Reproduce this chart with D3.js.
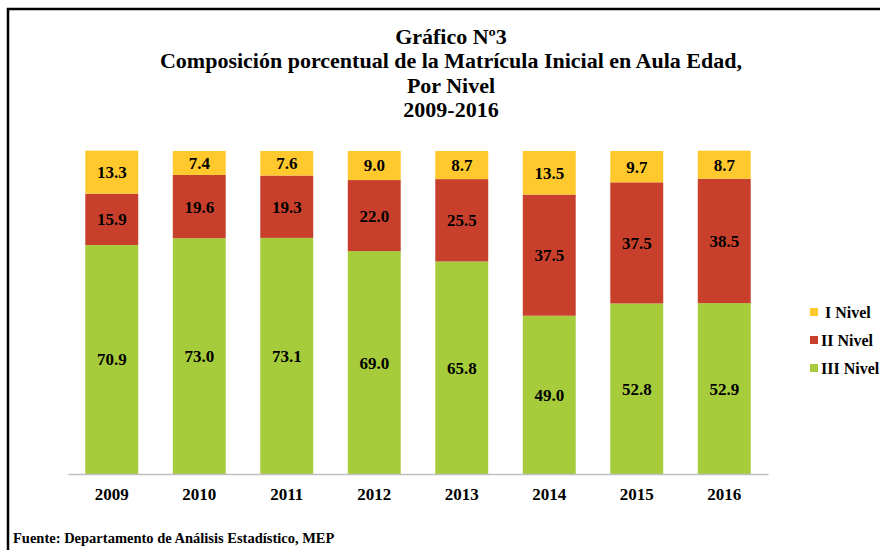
<!DOCTYPE html>
<html lang="es">
<head>
    <meta charset="UTF-8">
    <title>Gráfico Nº3</title>
    <script src="https://d3js.org/d3.v7.min.js"></script>
    <style>
        body {
            margin: 0;
            background-color: #FFFFFF;
            overflow: hidden;
        }
        text {
            font-family: 'Liberation Serif', 'Times New Roman', serif;
            font-weight: bold;
            fill: #000;
        }
    </style>
</head>
<body>
    <script>
        // Data
        const years = ["2009", "2010", "2011", "2012", "2013", "2014", "2015", "2016"];
        const nivelI = [13.3, 7.4, 7.6, 9.0, 8.7, 13.5, 9.7, 8.7];
        const nivelII = [15.9, 19.6, 19.3, 22.0, 25.5, 37.5, 37.5, 38.5];
        const nivelIII = [70.9, 73.0, 73.1, 69.0, 65.8, 49.0, 52.8, 52.9];
        const seriesNames = ["I Nivel", "II Nivel", "III Nivel"];
        const seriesColors = ["#FFC92E", "#C8402C", "#A6CB3B"];
        const titleLines = [
            "Gráfico Nº3",
            "Composición porcentual de la Matrícula Inicial en Aula Edad,",
            "Por Nivel",
            "2009-2016"
        ];

        const W = 880, H = 550;

        const svg = d3.select("body").append("svg")
            .attr("width", W)
            .attr("height", H);

        // Frame
        svg.append("rect")
            .attr("x", 8).attr("y", 9)
            .attr("width", W + 20).attr("height", H + 20)
            .attr("fill", "none")
            .attr("stroke", "#000")
            .attr("stroke-width", 2.5);

        // Title
        svg.append("g").selectAll("text")
            .data(titleLines)
            .enter().append("text")
            .attr("x", 451)
            .attr("y", function(d, i) { return 44 + i * 24.4; })
            .attr("text-anchor", "middle")
            .style("font-size", "22px")
            .text(function(d) { return d; });

        // Scales
        const x = d3.scaleBand()
            .domain(years)
            .range([68, 768])
            .paddingInner(0.395)
            .paddingOuter(0.1975);
        const y = d3.scaleLinear().domain([0, 100]).range([474, 151]);

        // Stack: bottom III, then II, then I on top
        const rows = years.map(function(yr, i) {
            return { year: yr, "I Nivel": nivelI[i], "II Nivel": nivelII[i], "III Nivel": nivelIII[i] };
        });
        const stack = d3.stack().keys(["III Nivel", "II Nivel", "I Nivel"]);
        const layers = stack(rows);
        const color = d3.scaleOrdinal().domain(seriesNames).range(seriesColors);

        const layer = svg.selectAll(".layer")
            .data(layers)
            .enter().append("g")
            .attr("class", "layer")
            .attr("fill", function(d) { return color(d.key); });

        layer.selectAll("rect")
            .data(function(d) { return d; })
            .enter().append("rect")
            .attr("x", function(d) { return x(d.data.year); })
            .attr("y", function(d) { return y(d[1]); })
            .attr("width", x.bandwidth())
            .attr("height", function(d) { return y(d[0]) - y(d[1]); });

        // Value labels
        layer.selectAll("text")
            .data(function(d) { return d; })
            .enter().append("text")
            .attr("x", function(d) { return x(d.data.year) + x.bandwidth() / 2; })
            .attr("y", function(d) { return (y(d[0]) + y(d[1])) / 2; })
            .attr("dy", "0.35em")
            .attr("text-anchor", "middle")
            .style("font-size", "17px")
            .text(function(d) { return d3.format(".1f")(d[1] - d[0]); });

        // x Axis
        const xAxis = svg.append("g")
            .attr("transform", "translate(0,474)")
            .call(d3.axisBottom(x).tickSize(0).tickPadding(14));
        xAxis.select(".domain").attr("stroke", "#BFBFBF").attr("stroke-width", 1.5);
        xAxis.selectAll("text")
            .style("font-family", "'Liberation Serif', serif")
            .style("font-weight", "bold")
            .style("font-size", "17px")
            .attr("fill", "#000");

        // Legend
        const legend = svg.append("g").selectAll("g")
            .data(seriesNames)
            .enter().append("g")
            .attr("transform", function(d, i) { return "translate(810," + (312 + i * 28) + ")"; });
        legend.append("rect")
            .attr("x", 0).attr("y", -4)
            .attr("width", 8).attr("height", 8)
            .attr("fill", function(d) { return color(d); });
        legend.append("text")
            .attr("x", function(d, i) { return i === 0 ? 15 : 11; })
            .attr("dy", "0.35em")
            .style("font-size", "16px")
            .text(function(d) { return d; });

        // Source
        svg.append("text")
            .attr("x", 13)
            .attr("y", 543)
            .style("font-size", "14.5px")
            .text("Fuente: Departamento de Análisis Estadístico, MEP");
    </script>
</body>
</html>
